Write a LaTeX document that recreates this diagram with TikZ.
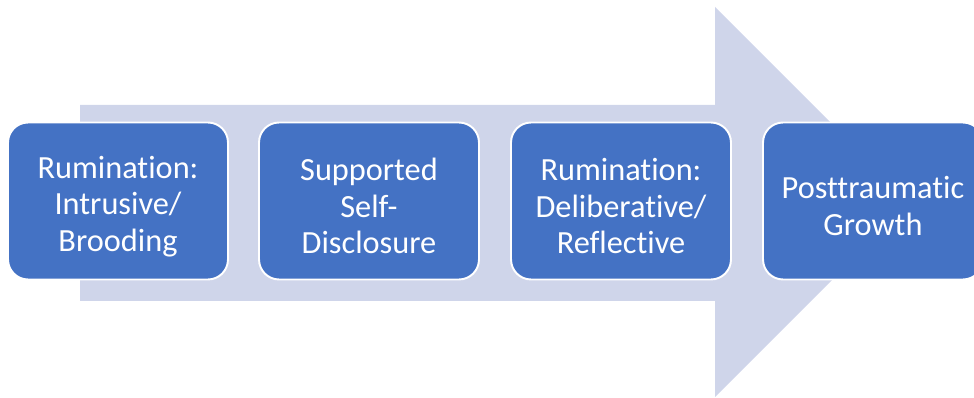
\documentclass[tikz,border=0pt]{standalone}
\usepackage{fontspec}
\setmainfont[Ligatures=NoCommon]{Carlito}
\usepackage{tikz}
\usepackage{xcolor}
\definecolor{stepblue}{HTML}{4472C4}
\definecolor{arrowfill}{HTML}{CFD5EA}
\newcommand\stagetop{\rule{0pt}{18.6pt}}
\tikzset{stage/.style={draw=white,line width=1.1pt,fill=stepblue,rounded corners=0.4cm,
  minimum width=4.4cm,minimum height=3.14cm,text=white,align=center,
  font=\fontsize{18.4}{20.8}\selectfont}}

\begin{document}
\begin{tikzpicture}[x=0.02cm,y=0.02cm]
\useasboundingbox (0,0) rectangle (974,398);
% the big arrow behind the stages
\fill[arrowfill](80,293)--(715,293)--(715,391)--(910,196)--(715,1)--(715,97)--(80,97)--cycle;
\node[stage] (intrusive) at (118,197) {\stagetop Rumination:\\Intrusive/\\Brooding};
\node[stage] (disclosure) at (369,197) {\stagetop Supported\\Self-\\Disclosure};
\node[stage] (deliberate) at (621,197) {\stagetop Rumination:\\Deliberative/\\Reflective};
\node[stage] (growth) at (873,197) {\stagetop Posttraumatic\\Growth};
\end{tikzpicture}
\end{document}
